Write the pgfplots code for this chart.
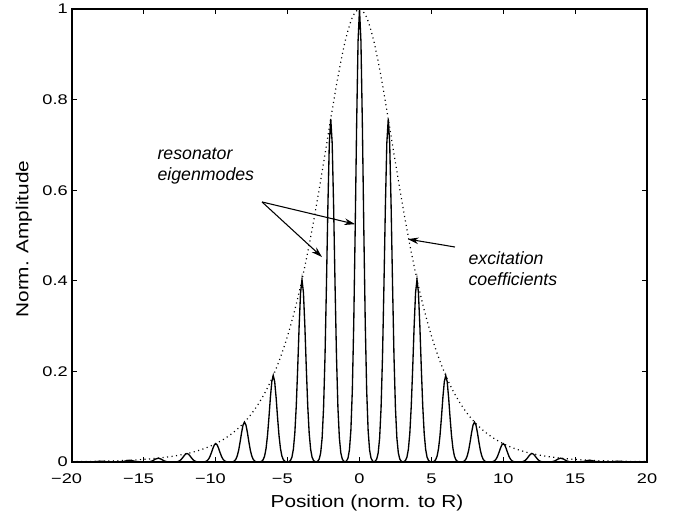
\documentclass[border=0pt]{standalone}
\usepackage{pgfplots}
\pgfplotsset{compat=1.18}
\usepackage{graphicx}
\usepackage{fontspec}
\setmainfont{Liberation Sans}
\usetikzlibrary{arrows.meta}
\newcommand{\tl}[1]{\scalebox{1.3}[1]{#1}}
\newcommand{\lb}[1]{\scalebox{1.2}[1]{#1}}
\begin{document}
\begin{tikzpicture}
\useasboundingbox (0,0) rectangle (510.75pt,387pt);
\begin{axis}[
  at={(54pt,40.5pt)}, anchor=south west,
  scale only axis, width=431.25pt, height=339.75pt,
  xmin=-20, xmax=20, ymin=0, ymax=1,
  xtick={-20,-15,...,20},
  xticklabels={\tl{\llap{−}20},\tl{\llap{−}15},\tl{\llap{−}10},\tl{\llap{−}5},\tl{0},\tl{5},\tl{10},\tl{15},\tl{20}},
  ytick={0,0.2,0.4,0.6,0.8,1},
  yticklabels={\tl{0},\tl{0.2},\tl{0.4},\tl{0.6},\tl{0.8},\tl{1}},
  tick align=inside, tick pos=both,
  major tick length=3.5pt,
  every tick/.style={black, line width=0.7pt},
  axis line style={line width=0.9pt},
  tick label style={font=\fontsize{10.5}{12}\selectfont, inner sep=0pt},
  xticklabel style={anchor=base, yshift=-16pt},
  yticklabel style={anchor=east, xshift=-3pt},
  xlabel={\lb{Position (norm. to R)}},
  ylabel={\lb{Norm. Amplitude}},
  xlabel style={font=\fontsize{13}{15}\selectfont, at={(axis description cs:0.513,-0.1015)}, anchor=base, inner sep=0pt},
  ylabel style={font=\fontsize{13}{15}\selectfont, at={(axis description cs:-0.0835,0.492)}, anchor=center, inner sep=0pt},
  clip=true,
]
% resonator eigenmodes
\addplot[black, line width=1pt] table {
x y
-20 0
-19 0
-18.4 0.0006
-18.2 0.0013
-18 0.0018
-17.8 0.0013
-17.6 0.0006
-17 0
-16.4 0.0012
-16.2 0.0029
-16 0.0039
-15.8 0.0029
-15.6 0.0012
-15 0
-14.6 0.0006
-14.4 0.0026
-14.2 0.0063
-14 0.0085
-13.8 0.0063
-13.6 0.0026
-13.4 0.0006
-13 0
-12.9 0
-12.8 0.0002
-12.7 0.0005
-12.6 0.0013
-12.5 0.0029
-12.4 0.0057
-12.3 0.0096
-12.2 0.0138
-12.1 0.0173
-12 0.0186
-11.9 0.0173
-11.8 0.0138
-11.7 0.0096
-11.6 0.0057
-11.5 0.0029
-11.4 0.0013
-11.3 0.0005
-11.2 0.0002
-11.1 0
-11 0
-10.9 0.0001
-10.8 0.0004
-10.7 0.0011
-10.6 0.0028
-10.5 0.0064
-10.4 0.0124
-10.3 0.0208
-10.2 0.0301
-10.1 0.0376
-10 0.0405
-9.9 0.0376
-9.8 0.0301
-9.7 0.0208
-9.6 0.0124
-9.5 0.0064
-9.4 0.0028
-9.3 0.0011
-9.2 0.0004
-9.1 0.0001
-9 0
-8.9 0.0002
-8.8 0.0008
-8.7 0.0024
-8.6 0.0061
-8.5 0.0139
-8.4 0.0270
-8.3 0.0453
-8.2 0.0655
-8.1 0.0818
-8 0.0881
-7.9 0.0818
-7.8 0.0655
-7.7 0.0453
-7.6 0.0270
-7.5 0.0139
-7.4 0.0061
-7.3 0.0024
-7.2 0.0008
-7.1 0.0002
-7 0
-6.9 0.0005
-6.8 0.0017
-6.7 0.0051
-6.6 0.0133
-6.5 0.0300
-6.4 0.0585
-6.3 0.0981
-6.2 0.1420
-6.1 0.1773
-6 0.1909
-5.9 0.1773
-5.8 0.1420
-5.7 0.0981
-5.6 0.0585
-5.5 0.0300
-5.4 0.0133
-5.3 0.0051
-5.2 0.0017
-5.1 0.0005
-5 0
-4.9 0.0010
-4.8 0.0035
-4.7 0.0107
-4.6 0.0281
-4.5 0.0634
-4.4 0.1232
-4.3 0.2068
-4.2 0.2994
-4.1 0.3738
-4 0.4025
-3.9 0.3738
-3.8 0.2994
-3.7 0.2068
-3.6 0.1232
-3.5 0.0634
-3.4 0.0281
-3.3 0.0107
-3.2 0.0035
-3.1 0.0010
-3 0
-2.9 0.0019
-2.8 0.0067
-2.7 0.0202
-2.6 0.0529
-2.5 0.1192
-2.4 0.2320
-2.3 0.3893
-2.2 0.5636
-2.1 0.7036
-2 0.7576
-1.9 0.7036
-1.8 0.5636
-1.7 0.3893
-1.6 0.2320
-1.5 0.1192
-1.4 0.0529
-1.3 0.0202
-1.2 0.0067
-1.1 0.0019
-1 0
-0.9 0.0025
-0.8 0.0088
-0.7 0.0267
-0.6 0.0698
-0.5 0.1574
-0.4 0.3062
-0.3 0.5139
-0.2 0.7439
-0.1 0.9287
0 1
0.1 0.9287
0.2 0.7439
0.3 0.5139
0.4 0.3062
0.5 0.1574
0.6 0.0698
0.7 0.0267
0.8 0.0088
0.9 0.0025
1 0
1.1 0.0019
1.2 0.0067
1.3 0.0202
1.4 0.0529
1.5 0.1192
1.6 0.2320
1.7 0.3893
1.8 0.5636
1.9 0.7036
2 0.7576
2.1 0.7036
2.2 0.5636
2.3 0.3893
2.4 0.2320
2.5 0.1192
2.6 0.0529
2.7 0.0202
2.8 0.0067
2.9 0.0019
3 0
3.1 0.0010
3.2 0.0035
3.3 0.0107
3.4 0.0281
3.5 0.0634
3.6 0.1232
3.7 0.2068
3.8 0.2994
3.9 0.3738
4 0.4025
4.1 0.3738
4.2 0.2994
4.3 0.2068
4.4 0.1232
4.5 0.0634
4.6 0.0281
4.7 0.0107
4.8 0.0035
4.9 0.0010
5 0
5.1 0.0005
5.2 0.0017
5.3 0.0051
5.4 0.0133
5.5 0.0300
5.6 0.0585
5.7 0.0981
5.8 0.1420
5.9 0.1773
6 0.1909
6.1 0.1773
6.2 0.1420
6.3 0.0981
6.4 0.0585
6.5 0.0300
6.6 0.0133
6.7 0.0051
6.8 0.0017
6.9 0.0005
7 0
7.1 0.0002
7.2 0.0008
7.3 0.0024
7.4 0.0061
7.5 0.0139
7.6 0.0270
7.7 0.0453
7.8 0.0655
7.9 0.0818
8 0.0881
8.1 0.0818
8.2 0.0655
8.3 0.0453
8.4 0.0270
8.5 0.0139
8.6 0.0061
8.7 0.0024
8.8 0.0008
8.9 0.0002
9 0
9.1 0.0001
9.2 0.0004
9.3 0.0011
9.4 0.0028
9.5 0.0064
9.6 0.0124
9.7 0.0208
9.8 0.0301
9.9 0.0376
10 0.0405
10.1 0.0376
10.2 0.0301
10.3 0.0208
10.4 0.0124
10.5 0.0064
10.6 0.0028
10.7 0.0011
10.8 0.0004
10.9 0.0001
11 0
11.1 0
11.2 0.0002
11.3 0.0005
11.4 0.0013
11.5 0.0029
11.6 0.0057
11.7 0.0096
11.8 0.0138
11.9 0.0173
12 0.0186
12.1 0.0173
12.2 0.0138
12.3 0.0096
12.4 0.0057
12.5 0.0029
12.6 0.0013
12.7 0.0005
12.8 0.0002
12.9 0
13 0
13.4 0.0006
13.6 0.0026
13.8 0.0063
14 0.0085
14.2 0.0063
14.4 0.0026
14.6 0.0006
15 0
15.6 0.0012
15.8 0.0029
16 0.0039
16.2 0.0029
16.4 0.0012
17 0
17.6 0.0006
17.8 0.0013
18 0.0018
18.2 0.0013
18.4 0.0006
19 0
20 0
};
% excitation coefficients (envelope)
\addplot[black, line width=0.9pt, dash pattern=on 0.8pt off 2.6pt, smooth] table {
x y
-20 0.00082
-19 0.00121
-18 0.00179
-17 0.00264
-16 0.0039
-15 0.00576
-14 0.00851
-13 0.01256
-12 0.01856
-11.5 0.02255
-11 0.02741
-10.5 0.03330
-10 0.04047
-9.5 0.04917
-9 0.05974
-8.5 0.07258
-8 0.0881
-7.5 0.10702
-7 0.12988
-6.5 0.15753
-6 0.1909
-5.5 0.23096
-5 0.27890
-4.5 0.33577
-4 0.4025
-3.5 0.47946
-3 0.56619
-2.5 0.66041
-2 0.7576
-1.5 0.85031
-1 0.92849
-0.5 0.98128
0 1
0.5 0.98128
1 0.92849
1.5 0.85031
2 0.7576
2.5 0.66041
3 0.56619
3.5 0.47946
4 0.4025
4.5 0.33577
5 0.27890
5.5 0.23096
6 0.1909
6.5 0.15753
7 0.12988
7.5 0.10702
8 0.0881
8.5 0.07258
9 0.05974
9.5 0.04917
10 0.04047
10.5 0.03330
11 0.02741
11.5 0.02255
12 0.01856
13 0.01256
14 0.00851
15 0.00576
16 0.0039
17 0.00264
18 0.00179
19 0.00121
20 0.00082
};
\node[anchor=base west, inner sep=0pt, font=\fontsize{13.3}{15}\selectfont\itshape] at (axis cs:-14.07,0.6667) {resonator};
\node[anchor=base west, inner sep=0pt, font=\fontsize{13.3}{15}\selectfont\itshape] at (axis cs:-14.07,0.6225) {eigenmodes};
\node[anchor=base west, inner sep=0pt, font=\fontsize{13.3}{15}\selectfont\itshape] at (axis cs:7.57,0.4349) {excitation};
\node[anchor=base west, inner sep=0pt, font=\fontsize{13.3}{15}\selectfont\itshape] at (axis cs:7.57,0.3907) {coefficients};
\draw[-{Stealth[length=8pt,width=5pt]}, line width=0.8pt] (axis cs:-6.78,0.574) -- (axis cs:-2.61,0.4525);
\draw[-{Stealth[length=8pt,width=5pt]}, line width=0.8pt] (axis cs:-6.78,0.574) -- (axis cs:-0.31,0.525);
\draw[-{Stealth[length=8pt,width=5pt]}, line width=0.8pt] (axis cs:6.64,0.4746) -- (axis cs:3.37,0.492);
\end{axis}
\end{tikzpicture}
\end{document}
